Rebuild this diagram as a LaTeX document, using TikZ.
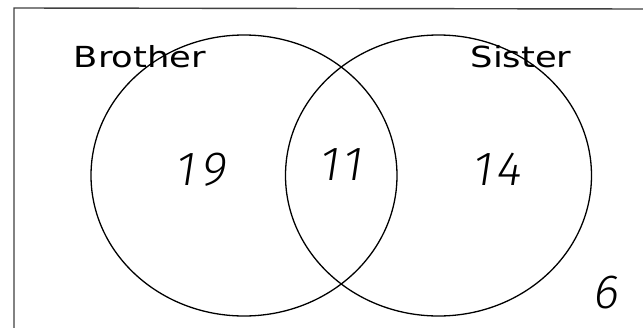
\documentclass[tikz,border=0pt]{standalone}
\usepackage{graphicx}
\usepackage{fontspec}
\newfontfamily\labelfont{DejaVu Sans}
\newfontfamily\handfont{Fira Sans Light}[FakeSlant=0.15]
\begin{document}
\begin{tikzpicture}[x=1pt,y=-1pt,
  setring/.style={draw=black, line width=1.3pt},
  framebox/.style={draw=black!75, line width=1.4pt},
  setlabel/.style={anchor=base, inner sep=0pt, font=\labelfont\fontsize{29}{29}\selectfont},
  count/.style={anchor=base, inner sep=0pt, font=\handfont\fontsize{48}{48}\selectfont}]
  \useasboundingbox (0,0) rectangle (643,327);
  \fill[white] (0,0) rectangle (643,327);
  % frame (top and left edges only are visible)
  \draw[framebox] (14,330) -- (14,8) -- (645,9);
  % the two sets
  \draw[setring] (244,175.5) ellipse [x radius=153, y radius=140.5];
  \draw[setring] (438.5,175.5) ellipse [x radius=153, y radius=140.5];
  % labels
  \node[setlabel] (brother) at (140,67) {\scalebox{1.22}[1]{Brother}};
  \node[setlabel] (sister) at (521,67) {\scalebox{1.22}[1]{Sister}};
  % counts
  \node[count] (nb) at (200,185) {1\hspace{6pt}9};
  \node[count] (nboth) at (340,180) {1\hspace{4pt}1};
  \node[count] (ns) at (496,185) {1\hspace{4pt}4};
  \node[count] (nnone) at (605,308) {6};
\end{tikzpicture}
\end{document}
